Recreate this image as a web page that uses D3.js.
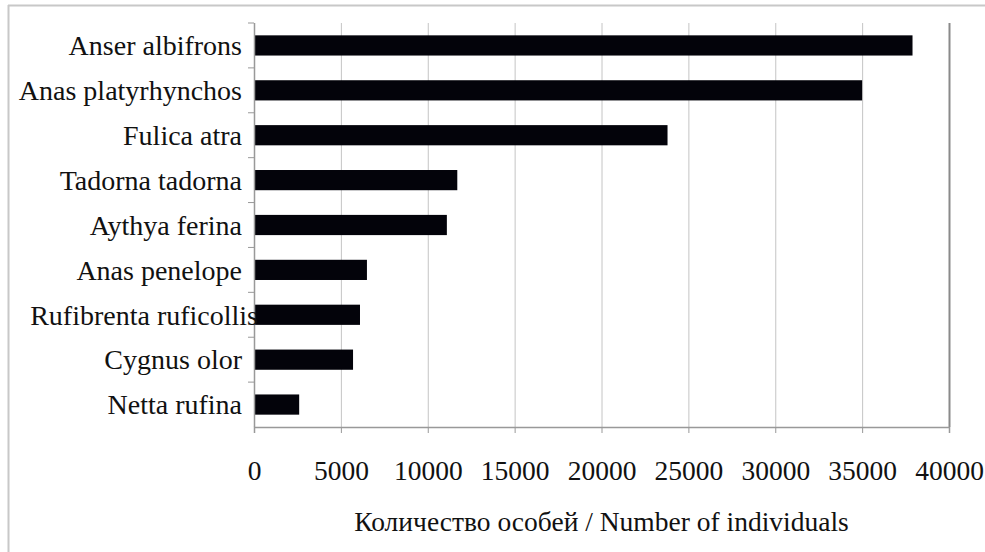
<!DOCTYPE html>
<html>
<head>
<meta charset="utf-8">
<script src="https://cdn.jsdelivr.net/npm/d3@7"></script>
<style>
  body { margin: 0; background: #fff; }
  text { font-family: "Liberation Serif", "Times New Roman", serif; fill: #111; }
</style>
</head>
<body>
<div id="chart"></div>
<script>
// species, top to bottom
var species = ["Anser albifrons", "Anas platyrhynchos", "Fulica atra", "Tadorna tadorna",
  "Aythya ferina", "Anas penelope", "Rufibrenta ruficollis", "Cygnus olor", "Netta rufina"];
// counts
var counts = [37900, 35000, 23800, 11700, 11100, 6500, 6100, 5700, 2600];
var xTicks = [0, 5000, 10000, 15000, 20000, 25000, 30000, 35000, 40000];
var xTitle = "Количество особей / Number of individuals";

var W = 985, H = 552;
var margin = {top: 23, right: 36, bottom: 125, left: 254},
    width = W - margin.left - margin.right,
    height = H - margin.top - margin.bottom;

var root = d3.select("#chart").append("svg")
  .attr("width", W).attr("height", H);

// outer frame (only top and left edges visible)
root.append("line").attr("x1", 8).attr("x2", W).attr("y1", 5.5).attr("y2", 5.5)
  .attr("stroke", "#c8c8c8").attr("stroke-width", 2);
root.append("line").attr("x1", 8.5).attr("x2", 8.5).attr("y1", 5).attr("y2", H)
  .attr("stroke", "#c8c8c8").attr("stroke-width", 2);

var svg = root.append("g")
  .attr("transform", "translate(" + margin.left + "," + margin.top + ")");

var x = d3.scaleLinear().domain([0, 40000]).range([0, width]);
var y = d3.scaleBand().domain(species).range([0, height]).paddingInner(0.55).paddingOuter(0.275);

// gridlines
svg.selectAll(".grid")
  .data(xTicks.slice(1))
  .enter().append("line")
    .attr("x1", function(d) { return x(d) + 0.5 })
    .attr("x2", function(d) { return x(d) + 0.5 })
    .attr("y1", 0).attr("y2", height)
    .attr("stroke", function(d) { return d === 40000 ? "#8a8a8a" : "#c4c4c4" })
    .attr("stroke-width", function(d) { return d === 40000 ? 2 : 1 });

// bars
svg.selectAll(".bar")
  .data(counts)
  .enter().append("rect")
    .attr("x", x(0))
    .attr("y", function(d, i) { return y(species[i]) })
    .attr("width", function(d) { return x(d) - x(0) })
    .attr("height", y.bandwidth())
    .attr("fill", "#03030a");

// x axis
var xAxis = svg.append("g")
  .attr("transform", "translate(0," + height + ")")
  .call(d3.axisBottom(x).tickValues(xTicks).tickSize(6).tickPadding(27).tickFormat(d3.format("d")));
xAxis.select(".domain").attr("stroke", "#999").attr("stroke-width", 1.5);
xAxis.selectAll(".tick line").attr("stroke", "#999");
xAxis.selectAll("text").attr("font-size", 27.5).attr("fill", "#111");

// y axis: ticks sit between categories
var yAxis = svg.append("g");
yAxis.append("line").attr("x1", 0.5).attr("x2", 0.5).attr("y1", 0).attr("y2", height)
  .attr("stroke", "#999").attr("stroke-width", 1.5);
yAxis.selectAll(".ytick")
  .data(d3.range(species.length))
  .enter().append("line")
    .attr("x1", -6).attr("x2", 0)
    .attr("y1", function(i) { return y.step() * i })
    .attr("y2", function(i) { return y.step() * i })
    .attr("stroke", "#999");
yAxis.selectAll(".ylabel")
  .data(species)
  .enter().append("text")
    .attr("x", function(d) { return d === "Rufibrenta ruficollis" ? 4 : -12 })
    .attr("y", function(d) { return y(d) + y.bandwidth() / 2 })
    .attr("dy", "0.35em")
    .attr("text-anchor", "end")
    .attr("font-size", 28)
    .text(function(d) { return d });

// axis title
svg.append("text")
  .attr("x", width / 2)
  .attr("y", height + 104)
  .attr("text-anchor", "middle")
  .attr("font-size", 27.5)
  .text(xTitle);
</script>
</body>
</html>
